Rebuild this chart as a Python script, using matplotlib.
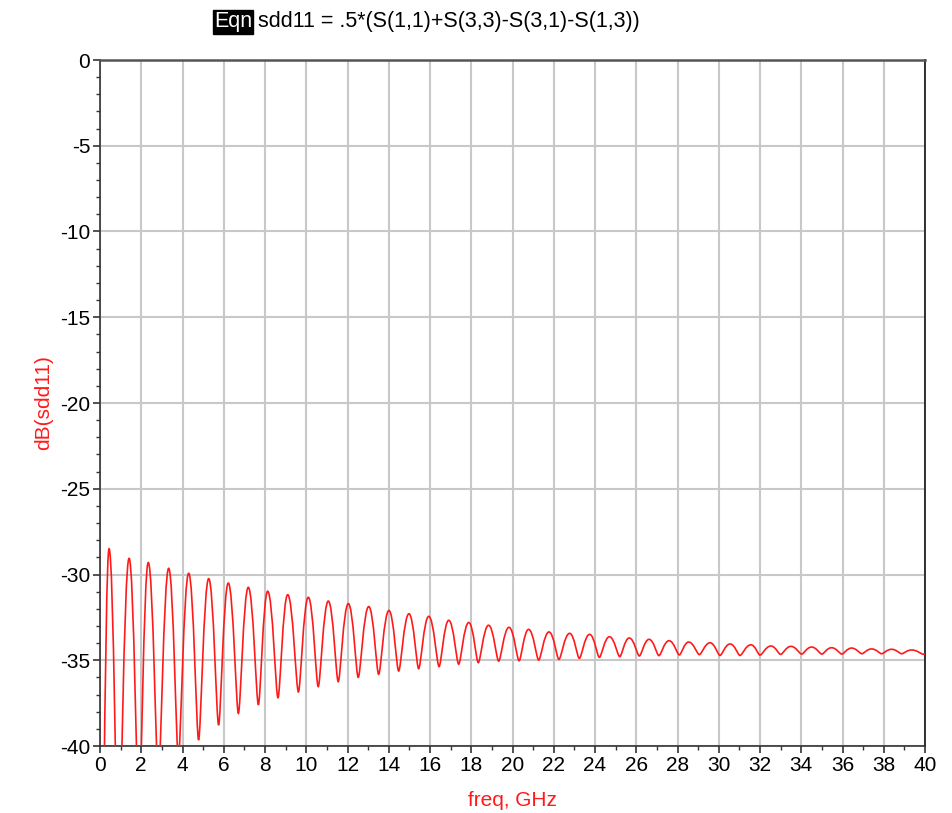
import matplotlib
matplotlib.use("Agg")
import matplotlib.pyplot as plt
from matplotlib.path import Path
from matplotlib.patches import PathPatch
from matplotlib.ticker import MultipleLocator

plt.rcParams['font.family'] = ['Liberation Sans', 'DejaVu Sans']
plt.rcParams['axes.unicode_minus'] = False

# Extremes of dB(sdd11) (freq in GHz, value in dB)
start_freq = [0.0]
start_db = [-60.0]
peak_freq = [0.44, 1.41, 2.34, 3.33, 4.30, 5.27, 6.22, 7.19, 8.13, 9.10,
             10.10, 11.07, 12.04, 13.03, 14.01, 14.98, 15.94, 16.91, 17.88, 18.84,
             19.83, 20.78, 21.77, 22.77, 23.74, 24.70, 25.66, 26.62, 27.59, 28.54,
             29.58, 30.55, 31.56, 32.53, 33.50, 34.50, 35.47, 36.44, 37.41, 38.38,
             39.35]
peak_db = [-28.5, -29.06, -29.3, -29.64, -29.93, -30.24, -30.5, -30.75, -30.98, -31.18,
           -31.33, -31.55, -31.70, -31.87, -32.1, -32.29, -32.44, -32.67, -32.8, -32.96,
           -33.08, -33.2, -33.35, -33.43, -33.49, -33.63, -33.7, -33.78, -33.86, -33.94,
           -33.98, -34.05, -34.1, -34.17, -34.19, -34.23, -34.27, -34.29, -34.34, -34.36,
           -34.4]
trough_freq = [0.89, 1.89, 2.83, 3.80, 4.78, 5.75, 6.71, 7.68, 8.63, 9.62,
               10.58, 11.55, 12.52, 13.51, 14.48, 15.45, 16.44, 17.39, 18.34, 19.33,
               20.32, 21.27, 22.25, 23.24, 24.21, 25.20, 26.15, 27.10, 28.09, 29.06,
               30.06, 31.03, 32.00, 33.00, 34.02, 35.00, 35.97, 36.94, 37.90, 38.87,
               39.93]
trough_db = [-47.0, -44.0, -42.0, -40.7, -39.65, -38.78, -38.1, -37.6, -37.2, -36.85,
             -36.54, -36.25, -36.0, -35.82, -35.63, -35.49, -35.37, -35.23, -35.14, -35.05,
             -35.03, -34.99, -34.95, -34.89, -34.83, -34.79, -34.75, -34.73, -34.69, -34.67,
             -34.72, -34.72, -34.7, -34.66, -34.64, -34.64, -34.64, -34.62, -34.62, -34.62,
             -34.65]
end_freq = [40.0]
end_db = [-34.63]

x_ticks = list(range(0, 41, 2))
y_ticks = list(range(-40, 1, 5))

# ordered extremes, flagged as peak (True) / trough (False)
pts = [(start_freq[0], start_db[0], False)]
for pf, pd, tf, td in zip(peak_freq, peak_db, trough_freq, trough_db):
    pts.append((pf, pd, True))
    pts.append((tf, td, False))
pts.append((end_freq[0], end_db[0], False))

fig = plt.figure(figsize=(9.53, 8.13), dpi=100)
ax = fig.add_axes([100/953, 1-746/813, 825/953, 686/813])
ax.set_xlim(0, 40)
ax.set_ylim(-40, 0)

# smooth curve through extremes: round peaks, sharper troughs (dB shape)
verts = [pts[0][:2]]
codes = [Path.MOVETO]
for (x0, y0, p0), (x1, y1, p1) in zip(pts[:-1], pts[1:]):
    dx = x1 - x0
    k0 = 0.48 if p0 else 0.22
    k1 = 0.48 if p1 else 0.22
    verts += [(x0 + k0*dx, y0), (x1 - k1*dx, y1), (x1, y1)]
    codes += [Path.CURVE4]*3
patch = PathPatch(Path(verts, codes), facecolor='none', edgecolor='#ff1a1a', lw=1.2, zorder=3)
ax.add_patch(patch)

ax.set_xticks(x_ticks)
ax.set_yticks(y_ticks)
ax.xaxis.set_minor_locator(MultipleLocator(1))
ax.yaxis.set_minor_locator(MultipleLocator(1))
ax.grid(True, which='major', color='#c8c8c8', lw=1.5, zorder=0)
ax.tick_params(which='major', direction='out', length=5, width=1.2, color='#333333',
               labelsize=15, pad=2)
ax.tick_params(which='minor', direction='out', length=3, width=1.0, color='#333333')
for s in ['left', 'bottom']:
    ax.spines[s].set_color('#333333')
    ax.spines[s].set_linewidth(1.2)
ax.spines['top'].set_color('#555555')
ax.spines['top'].set_linewidth(1.8)
ax.spines['right'].set_color('#222222')
ax.spines['right'].set_linewidth(1.3)

ax.set_xlabel('freq, GHz', color='#ff1a1a', fontsize=15, labelpad=12)
ax.set_ylabel('dB(sdd11)', color='#ff1a1a', fontsize=15, labelpad=5)

fig.text(214/953, 1-22/813, 'Eqn', fontsize=15.5, color='white', va='center', ha='left',
         bbox=dict(facecolor='black', edgecolor='black', pad=0.8))
fig.text(258/953, 1-22/813, 'sdd11 = .5*(S(1,1)+S(3,3)-S(3,1)-S(1,3))', fontsize=15.5,
         color='black', va='center', ha='left')

fig.savefig('out.png', dpi=100)
